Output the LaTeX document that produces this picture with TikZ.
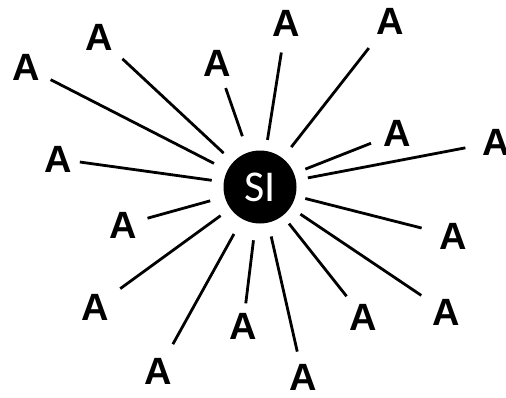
\documentclass[tikz,border=0pt]{standalone}
\usepackage{fontspec}
\usepackage{xcolor}
\usepackage{tikz}
\newfontfamily\letterfont{Liberation Sans}
\newfontfamily\hubfont{Carlito}
\tikzset{
  hub/.style={circle, fill=black, draw=none, minimum size=73pt, inner sep=0pt, text=white, font=\hubfont\fontsize{44}{44}\selectfont},
  leaf/.style={inner sep=0pt, text height=27pt, text depth=0pt, font=\letterfont\bfseries\fontsize{38}{38}\selectfont},
  ray/.style 2 args={line width=2.8pt, shorten <=#1pt, shorten >=#2pt}
}

\begin{document}
\begin{tikzpicture}[x=1pt, y=-1pt]
  \useasboundingbox (0,0) rectangle (506,397);

  \node[hub] (si) at (260,187) {SI};

  \node[leaf] (a1) at (26,67) {A};
  \node[leaf] (a2) at (99,37) {A};
  \node[leaf] (a3) at (217,63) {A};
  \node[leaf] (a4) at (58,159) {A};
  \node[leaf] (a5) at (286,23) {A};
  \node[leaf] (a6) at (390,21) {A};
  \node[leaf] (a7) at (397,133) {A};
  \node[leaf] (a8) at (496,142) {A};
  \node[leaf] (a9) at (123,225) {A};
  \node[leaf] (a10) at (95,307) {A};
  \node[leaf] (a11) at (158,371) {A};
  \node[leaf] (a12) at (243,326) {A};
  \node[leaf] (a13) at (303,377) {A};
  \node[leaf] (a14) at (363,317) {A};
  \node[leaf] (a15) at (446,312) {A};
  \node[leaf] (a16) at (453,236) {A};

  \draw[ray={15}{12}] (si) -- (a1);
  \draw[ray={13}{13}] (si) -- (a2);
  \draw[ray={17}{12}] (si) -- (a3);
  \draw[ray={12}{8}] (si) -- (a4);
  \draw[ray={11}{16}] (si) -- (a5);
  \draw[ray={14}{17}] (si) -- (a6);
  \draw[ray={12}{13}] (si) -- (a7);
  \draw[ray={12}{17}] (si) -- (a8);
  \draw[ray={15}{11}] (si) -- (a9);
  \draw[ray={12}{14}] (si) -- (a10);
  \draw[ray={17}{15}] (si) -- (a11);
  \draw[ray={17}{9}] (si) -- (a12);
  \draw[ray={14}{12}] (si) -- (a13);
  \draw[ray={10}{9}] (si) -- (a14);
  \draw[ray={12}{13}] (si) -- (a15);
  \draw[ray={10}{18}] (si) -- (a16);
\end{tikzpicture}
\end{document}
